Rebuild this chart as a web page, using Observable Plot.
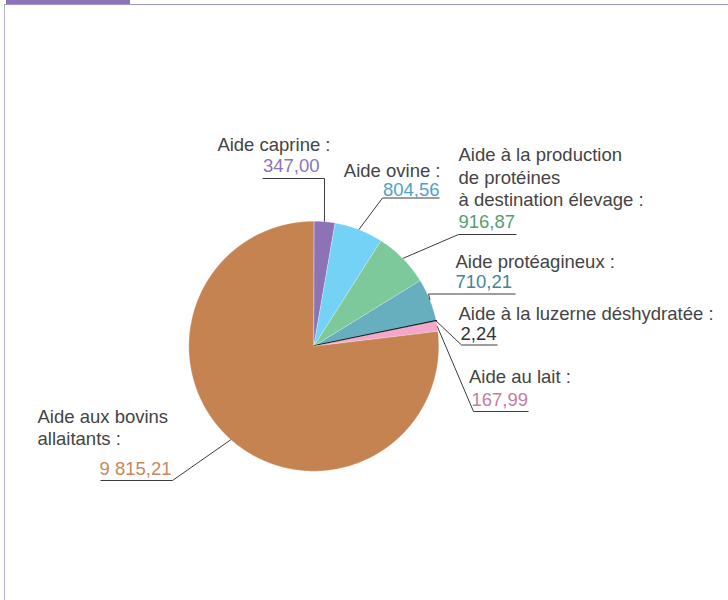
<!DOCTYPE html>
<html><head><meta charset="utf-8">
<script src="https://cdn.jsdelivr.net/npm/d3@7"></script>
<script src="https://cdn.jsdelivr.net/npm/@observablehq/plot@0.6"></script>
<style>
body{margin:0;background:#fff;}
#wrap{position:relative;width:728px;height:600px;overflow:hidden;font-family:"Liberation Sans",Arial,sans-serif;}
#tab{position:absolute;left:6px;top:0;width:124px;height:4px;background:#8b74b8;}
#frame{position:absolute;left:4px;top:4px;right:-2px;bottom:-2px;border-top:1.5px solid #a094cf;border-left:1.5px solid #b9b0e0;}
#chart{position:absolute;left:0;top:0;}
</style></head><body>
<div id="wrap"><div id="tab"></div><div id="frame"></div><div id="chart"></div></div>
<script>
// ---- data ----
const categories = [
  "Aide caprine :",
  "Aide ovine :",
  "Aide à la production\nde protéines\nà destination élevage :",
  "Aide protéagineux :",
  "Aide à la luzerne déshydratée :",
  "Aide au lait :",
  "Aide aux bovins\nallaitants :"
];
const values = [347.00, 804.56, 916.87, 710.21, 2.24, 167.99, 9815.21];
const sliceColors = ["#8b73b6", "#74d2f6", "#7dc99b", "#67aebf", "#111111", "#f4a6cb", "#c68352"];
const valueColors = ["#8b74b8", "#4fa3c7", "#55a070", "#3f8796", "#333333", "#c67ba0", "#c9875a"];

// ---- layout (pixels) ----
const W = 728, H = 600, cx = 313.3, cy = 345.7, R = 125;
const FS = 18.5, LH = 22.5;
const layout = [
  {la:"end",   lx:330,   ly:145,   va:"end",   vx:319,   vy:166,   ux1:262, ux2:324, uy:178,   ex:324},
  {la:"end",   lx:440,   ly:170.5, va:"end",   vx:439,   vy:190,   ux1:382, ux2:439, uy:197.5, ex:382},
  {la:"start", lx:458,   ly:155,   va:"start", vx:458,   vy:221.7, ux1:458, ux2:516, uy:234,   ex:458},
  {la:"start", lx:455,   ly:261.5, va:"start", vx:455,   vy:282,   ux1:428, ux2:515, uy:293.5, ex:428},
  {la:"start", lx:458,   ly:314,   va:"start", vx:460,   vy:334,   ux1:461, ux2:497, uy:344.5, ex:461},
  {la:"start", lx:468.5, ly:376.5, va:"start", vx:471,   vy:399.5, ux1:473, ux2:528, uy:411,   ex:473},
  {la:"start", lx:37,    ly:416.5, va:"end",   vx:171,   vy:469,   ux1:100, ux2:172, uy:480,   ex:172}
];

const fr = d3.formatLocale({decimal:",", thousands:" ", grouping:[3], currency:["","€"]}).format(",.2f");
const arcs = d3.pie().sort(null).value(d => d)(values);

const marks = [];
// slices
arcs.forEach((a, i) => {
  const pts = [{x: cx, y: cy}];
  const n = Math.max(2, Math.ceil((a.endAngle - a.startAngle) / (Math.PI / 360)));
  for (let k = 0; k <= n; k++) {
    const t = a.startAngle + (a.endAngle - a.startAngle) * k / n;
    pts.push({x: cx + R * Math.sin(t), y: cy - R * Math.cos(t)});
  }
  const dark = sliceColors[i] === "#111111";
  marks.push(Plot.line(pts, {x: "x", y: "y", curve: "linear-closed", fill: sliceColors[i],
    stroke: dark ? "#000" : "#ffffff", strokeWidth: dark ? 1.8 : 0.5, strokeOpacity: dark ? 1 : 0.6}));
});

// leaders
const leaders = arcs.map((a, i) => {
  const m = (a.startAngle + a.endAngle) / 2;
  return {x1: cx + R * Math.sin(m), y1: cy - R * Math.cos(m), x2: layout[i].ex, y2: layout[i].uy};
});
const unders = layout.map(l => ({x1: l.ux1, x2: l.ux2, y: l.uy}));
marks.push(Plot.link(leaders, {x1: "x1", y1: "y1", x2: "x2", y2: "y2", stroke: "#3c3c3c", strokeWidth: 1}));
marks.push(Plot.link(unders, {x1: "x1", y1: "y", x2: "x2", y2: "y", stroke: "#3c3c3c", strokeWidth: 1}));

// category labels
const labelLines = [];
categories.forEach((c, i) => c.split("\n").forEach((t, j) =>
  labelLines.push({t, x: layout[i].lx, y: layout[i].ly + j * LH, a: layout[i].la})));
["start", "end"].forEach(anc => {
  marks.push(Plot.text(labelLines.filter(d => d.a === anc), {x: "x", y: "y", text: "t",
    textAnchor: anc, fill: "#444444", fontSize: FS, lineAnchor: "middle"}));
});
// value labels
const vals = values.map((v, i) => ({t: fr(v), x: layout[i].vx, y: layout[i].vy, a: layout[i].va, c: valueColors[i]}));
["start", "end"].forEach(anc => {
  marks.push(Plot.text(vals.filter(d => d.a === anc), {x: "x", y: "y", text: "t",
    textAnchor: anc, fill: "c", fontSize: FS, lineAnchor: "middle"}));
});

const chart = Plot.plot({
  width: W, height: H, margin: 0,
  style: {background: "transparent", fontFamily: "'Liberation Sans', Arial, sans-serif", overflow: "visible"},
  x: {domain: [0, W], range: [0, W], axis: null},
  y: {domain: [0, H], range: [0, H], axis: null},
  color: {type: "identity"},
  marks
});
document.getElementById("chart").appendChild(chart);
</script>
</body></html>
